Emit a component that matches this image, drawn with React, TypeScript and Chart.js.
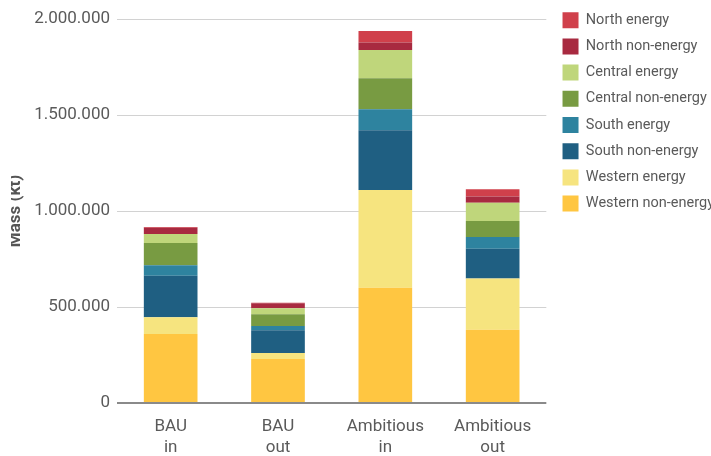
import React, { useEffect, useRef } from 'react';
import { Chart, registerables } from 'chart.js';

Chart.register(...registerables);

const categories: string[][] = [['BAU', 'in'], ['BAU', 'out'], ['Ambitious', 'in'], ['Ambitious', 'out']];

const seriesNames = [
  'Western non-energy',
  'Western energy',
  'South non-energy',
  'South energy',
  'Central non-energy',
  'Central energy',
  'North non-energy',
  'North energy',
];
const seriesColors = ['#ffc641', '#f6e47f', '#1f5f82', '#2e839f', '#789b42', '#bfd67b', '#a82a40', '#d0404b'];

const westernNonEnergy = [359000, 229000, 600000, 382000];
const westernEnergy = [87000, 31000, 509000, 266000];
const southNonEnergy = [217000, 119000, 311000, 156000];
const southEnergy = [54000, 22000, 110000, 61000];
const centralNonEnergy = [116000, 61000, 161000, 83000];
const centralEnergy = [47000, 31000, 147000, 95000];
const northNonEnergy = [33000, 26000, 39000, 32000];
const northEnergy = [4000, 3000, 60000, 38000];

const yMin = 0;
const yMax = 2000000;
const yStep = 500000;
const yTitle = 'Mass (kt)';

const seriesValues = [
  westernNonEnergy,
  westernEnergy,
  southNonEnergy,
  southEnergy,
  centralNonEnergy,
  centralEnergy,
  northNonEnergy,
  northEnergy,
];

const fmt = (v: number) => String(v).replace(/\B(?=(\d{3})+(?!\d))/g, '.');

const shiftLegend = {
  id: 'shiftLegend',
  afterLayout(chart: any) {
    const l = chart.legend;
    if (l) {
      l.left += 6;
      l.right += 6;
      l.top += 1;
      l.bottom += 1;
    }
  },
};

export default function App() {
  const ref = useRef<HTMLCanvasElement | null>(null);
  useEffect(() => {
    if (!ref.current) return;
    Chart.defaults.font.family = 'Roboto';
    const chart = new Chart(ref.current, {
      type: 'bar',
      data: {
        labels: categories,
        datasets: seriesNames.map((name, i) => ({
          label: name,
          data: seriesValues[i],
          backgroundColor: seriesColors[i],
          borderWidth: 0,
          barPercentage: 0.5,
          categoryPercentage: 1.0,
        })),
      },
      options: {
        responsive: false,
        animation: false,
        layout: { padding: { top: 1, right: 0, bottom: 0, left: 0 } },
        plugins: {
          legend: {
            position: 'right',
            align: 'start',
            reverse: true,
            labels: {
              boxWidth: 16,
              boxHeight: 16,
              padding: 10.2,
              color: '#5a5a5a',
              font: { size: 14.5, family: 'Roboto' },
            },
          },
          tooltip: { enabled: false },
        },
        scales: {
          x: {
            stacked: true,
            grid: { display: false },
            border: { display: false },
            ticks: { color: '#5a5a5a', font: { size: 17, family: 'Roboto', lineHeight: 1.235 }, padding: 5, maxRotation: 0 },
            afterFit: (s: any) => {
              s.height = 53;
            },
          },
          y: {
            stacked: true,
            min: yMin,
            max: yMax,
            border: { display: false },
            grid: {
              drawTicks: false,
              color: (c: any) => (c.tick && c.tick.value === 0 ? '#8a8a8a' : '#d2d2d2'),
              lineWidth: (c: any) => (c.tick && c.tick.value === 0 ? 2 : 1),
            },
            ticks: {
              stepSize: yStep,
              color: '#5a5a5a',
              padding: 7,
              font: { size: 17, family: 'Roboto' },
              callback: (v: any) => fmt(Number(v)),
            },
            title: {
              display: true,
              text: yTitle,
              color: '#555555',
              font: { size: 17, weight: 'bold', family: 'Roboto' },
              padding: { top: -5, bottom: 0 },
            },
            afterFit: (s: any) => {
              s.width = 106;
              s.paddingTop = 19;
            },
          },
        },
      },
      plugins: [shiftLegend],
    } as any);
    return () => chart.destroy();
  }, []);
  return (
    <div style={{ position: 'absolute', left: 11, top: 0, width: 700, height: 456, overflow: 'hidden', background: '#fff' }}>
      <canvas ref={ref} width={707} height={456} style={{ display: 'block', width: 707, height: 456 }} />
    </div>
  );
}
